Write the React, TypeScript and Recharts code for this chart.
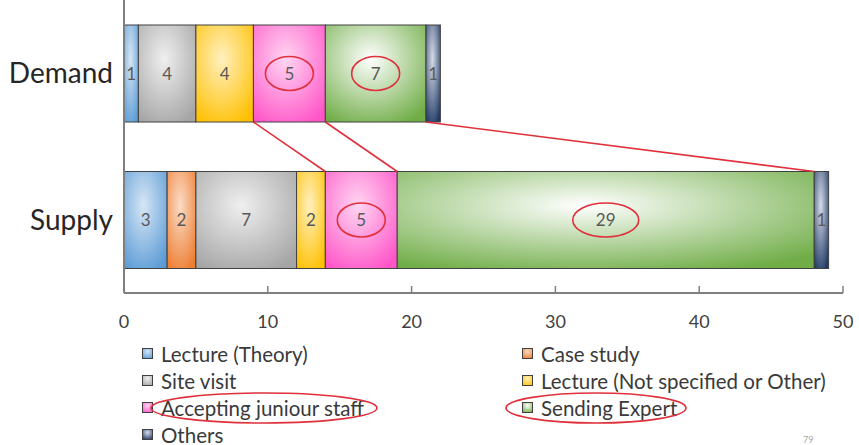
import React from 'react';
import { Bar, BarChart, LabelList, XAxis, YAxis } from 'recharts';

const categories = ['Demand', 'Supply'];
const lectureTheory = [1, 3];
const caseStudy = [0, 2];
const siteVisit = [4, 7];
const lectureOther = [4, 2];
const acceptingStaff = [5, 5];
const sendingExpert = [7, 29];
const others = [1, 1];
const xTicks = [0, 10, 20, 30, 40, 50];

const series = [
  { key: 'lectureTheory', name: 'Lecture (Theory)', values: lectureTheory, color: '#5b9bd5', light: '#d6e6f5' },
  { key: 'caseStudy', name: 'Case study', values: caseStudy, color: '#ed7d31', light: '#fbdcc6' },
  { key: 'siteVisit', name: 'Site visit', values: siteVisit, color: '#a5a5a5', light: '#efefef' },
  { key: 'lectureOther', name: 'Lecture (Not specified or Other)', values: lectureOther, color: '#ffc000', light: '#fff0c0' },
  { key: 'acceptingStaff', name: 'Accepting juniour staff', values: acceptingStaff, color: '#ff55c8', light: '#ffd6f2', circled: true, linked: true },
  { key: 'sendingExpert', name: 'Sending Expert', values: sendingExpert, color: '#70ad47', light: '#ffffff', circled: true, linked: true },
  { key: 'others', name: 'Others', values: others, color: '#1f3864', light: '#d6dce8', linked: true },
];

const data = categories.map((name, i) => {
  const row: Record<string, string | number> = { name };
  series.forEach(s => {
    row[s.key] = s.values[i];
  });
  return row;
});

const RED = '#e0303c';
const FONT = 'Lato, "Open Sans", sans-serif';

// left-bottom corner of each demand segment, used for the red connector lines
const demandCorner: Record<string, { x: number; y: number }> = {};

const makeShape = (s: (typeof series)[number]) => (props: any) => {
  const { x, y, width, height, index } = props;
  if (!width || width <= 0) return <g />;
  if (index === 0) demandCorner[s.key] = { x, y: y + height };
  const from = demandCorner[s.key];
  return (
    <g>
      <rect x={x} y={y} width={width} height={height} fill={`url(#grad-${s.key})`} stroke="#404040" strokeWidth={1} />
      {s.circled && (
        <ellipse
          cx={x + width / 2}
          cy={y + height / 2}
          rx={width > 150 ? 33 : 24}
          ry={17}
          fill="none"
          stroke={RED}
          strokeWidth={1.6}
        />
      )}
      {s.linked && index === 1 && from && (
        <line x1={from.x} y1={from.y} x2={x} y2={y} stroke={RED} strokeWidth={1.6} />
      )}
    </g>
  );
};

const XTick = ({ x, y, payload }: any) => (
  <g>
    <line x1={x} y1={y - 20} x2={x} y2={y - 27} stroke="#7f7f7f" strokeWidth={1.5} />
    <text x={x} y={y + 15} textAnchor="middle" fontSize={18} fill="#404040" fontFamily={FONT}>
      {payload.value}
    </text>
  </g>
);

const LegendSwatch = ({ s }: { s: (typeof series)[number] }) => (
  <svg width={11} height={11} style={{ marginRight: 8, flex: 'none' }}>
    <defs>
      <radialGradient id={`lg-${s.key}`} cx="50%" cy="30%" r="80%">
        <stop offset="0%" stopColor={s.light} />
        <stop offset="100%" stopColor={s.color} />
      </radialGradient>
    </defs>
    <rect x={0.5} y={0.5} width={10} height={10} fill={`url(#lg-${s.key})`} stroke="#404040" strokeWidth={1} />
  </svg>
);

// ellipse placement (relative to the legend row) for circled entries
const legendRing: Record<string, { left: number; width: number }> = {
  acceptingStaff: { left: 8, width: 228 },
  sendingExpert: { left: -17, width: 182 },
};

const ChartLegend = () => (
  <div
    style={{
      position: 'absolute',
      left: 142,
      top: 340,
      display: 'grid',
      gridTemplateColumns: '380px 340px',
      gridAutoRows: '27px',
      fontFamily: FONT,
      fontSize: 20.5,
      color: '#3a3a3a',
    }}
  >
    {series.map(s => (
      <div key={s.key} style={{ display: 'flex', alignItems: 'center', position: 'relative', whiteSpace: 'nowrap' }}>
        <LegendSwatch s={s} />
        <span>{s.name}</span>
        {s.circled && (
          <svg
            width={legendRing[s.key].width}
            height={32}
            style={{ position: 'absolute', left: legendRing[s.key].left, top: -2.5, overflow: 'visible' }}
          >
            <ellipse
              cx={legendRing[s.key].width / 2}
              cy={16}
              rx={legendRing[s.key].width / 2 - 1}
              ry={15}
              fill="none"
              stroke={RED}
              strokeWidth={1.6}
            />
          </svg>
        )}
      </div>
    ))}
  </div>
);

export default function App() {
  return (
    <div style={{ position: 'absolute', left: 0, top: 0, width: 859, height: 445, background: '#fff' }}>
      <BarChart
        width={859}
        height={445}
        data={data}
        layout="vertical"
        margin={{ top: 0, right: 16, left: 0, bottom: 112 }}
        barSize={97}
      >
        <defs>
          {series.map(s => (
            <radialGradient key={s.key} id={`grad-${s.key}`} cx="45%" cy="35%" r="75%">
              <stop offset="0%" stopColor={s.light} />
              <stop offset="100%" stopColor={s.color} />
            </radialGradient>
          ))}
        </defs>
        <XAxis
          type="number"
          domain={[0, 50]}
          ticks={xTicks}
          tickLine={false}
          tickSize={0}
          tickMargin={20}
          axisLine={{ stroke: '#7f7f7f', strokeWidth: 2 }}
          tick={<XTick />}
          height={40}
        />
        <YAxis
          type="category"
          dataKey="name"
          width={124}
          tickLine={false}
          axisLine={{ stroke: '#7f7f7f', strokeWidth: 2 }}
          tick={{ fontSize: 28, fill: '#262626', fontFamily: FONT }}
          tickMargin={5}
        />
        {series.map(s => (
          <Bar
            key={s.key}
            dataKey={s.key}
            name={s.name}
            stackId="a"
            fill={s.color}
            shape={makeShape(s)}
            isAnimationActive={false}
          >
            <LabelList
              dataKey={s.key}
              position="center"
              fill="#595959"
              fontSize={17}
              fontFamily={FONT}
              formatter={(v: any) => (v ? v : '')}
            />
          </Bar>
        ))}
      </BarChart>
      <ChartLegend />
      <div style={{ position: 'absolute', left: 803, top: 434, fontSize: 9, color: '#a6a6a6', fontFamily: FONT }}>79</div>
    </div>
  );
}
